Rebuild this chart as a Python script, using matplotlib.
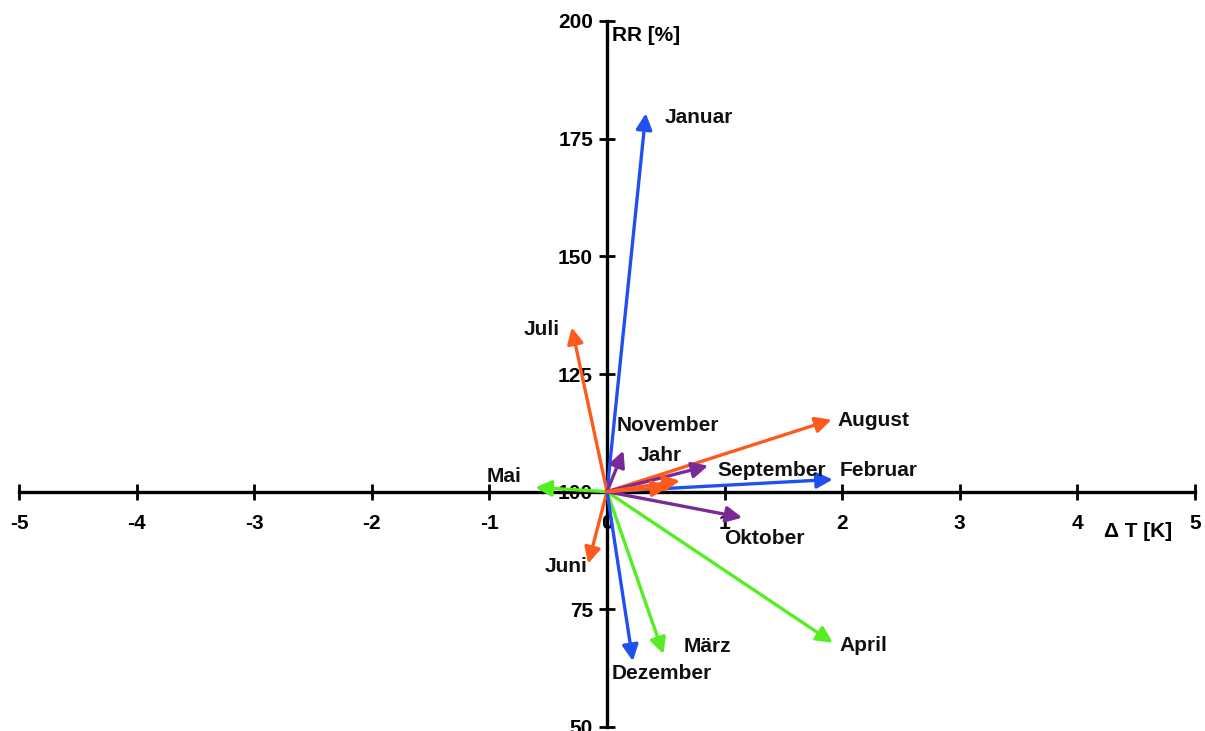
"""
Climate change vectors per month: temperature change vs. precipitation ratio.
Writes: out.png
"""

import matplotlib.pyplot as plt

plt.rcParams["font.family"] = ["Liberation Sans", "DejaVu Sans"]

BLUE = "#2050f0"
GREEN = "#55ee22"
ORANGE = "#ff5a1e"
PURPLE = "#7a2a96"

# month, delta T [K], RR [%], colour
months = ["Januar", "Februar", "März", "April", "Mai", "Juni", "Juli",
          "August", "September", "Oktober", "November", "Dezember", "Jahr", ""]
dT = [0.33, 1.92, 0.48, 1.92, -0.61, -0.16, -0.30,
      1.91, 0.86, 1.15, 0.14, 0.22, 0.62, 0.52]
rr = [180.4, 102.6, 65.5, 67.9, 100.9, 84.7, 134.9,
      115.3, 105.5, 94.5, 108.7, 64.0, 102.3, 100.9]
colors = [BLUE, BLUE, GREEN, GREEN, GREEN, ORANGE, ORANGE,
          ORANGE, PURPLE, PURPLE, PURPLE, BLUE, ORANGE, ORANGE]

# label anchor (x, y, ha) per month
label_pos = {
    "Januar": (0.49, 179.6, "left"),
    "Februar": (1.98, 104.5, "left"),
    "März": (0.65, 67.2, "left"),
    "April": (1.98, 67.4, "left"),
    "Mai": (-0.73, 103.2, "right"),
    "Juni": (-0.53, 84.0, "left"),
    "Juli": (-0.40, 134.5, "right"),
    "August": (1.96, 115.1, "left"),
    "September": (0.94, 104.5, "left"),
    "Oktober": (1.00, 90.0, "left"),
    "November": (0.08, 114.0, "left"),
    "Dezember": (0.04, 61.3, "left"),
    "Jahr": (0.26, 107.7, "left"),
}

x_ticks = [-5, -4, -3, -2, -1, 0, 1, 2, 3, 4, 5]
y_ticks = [50, 75, 100, 125, 150, 175, 200]

FS = 15


def main():
    fig = plt.figure(figsize=(12.05, 7.31), dpi=100)
    ax = fig.add_axes([19 / 1205, 4 / 731, 1176 / 1205, 706 / 731])
    ax.set_xlim(-5, 5)
    ax.set_ylim(50, 200)

    ax.spines["left"].set_position(("data", 0))
    ax.spines["bottom"].set_position(("data", 100))
    ax.spines["right"].set_visible(False)
    ax.spines["top"].set_visible(False)
    for s in ("left", "bottom"):
        ax.spines[s].set_linewidth(2.4)
        ax.spines[s].set_zorder(1)

    ax.set_xticks(x_ticks)
    ax.set_yticks(y_ticks)
    ax.set_xticklabels([str(t) for t in x_ticks])
    ax.tick_params(axis="both", direction="inout", length=12, width=2,
                   labelsize=FS)
    ax.tick_params(axis="x", pad=10)
    ax.tick_params(axis="y", pad=4)
    for lab in ax.get_xticklabels() + ax.get_yticklabels():
        lab.set_fontweight("bold")

    for name, x, y, c in zip(months, dT, rr, colors):
        ax.annotate("", xy=(x, y), xytext=(0, 100),
                    arrowprops=dict(arrowstyle="-|>", color=c, lw=2.4,
                                    mutation_scale=24, shrinkA=0, shrinkB=0),
                    zorder=3)
        if name in label_pos:
            lx, ly, ha = label_pos[name]
            ax.text(lx, ly, name, ha=ha, va="center", fontsize=FS,
                    fontweight="bold", color="#111111", zorder=4)

    ax.text(0.04, 197, "RR [%]", ha="left", va="center", fontsize=FS,
            fontweight="bold")
    ax.text(4.23, 91.5, "\u0394 T [K]", ha="left", va="center", fontsize=FS,
            fontweight="bold")

    fig.savefig("out.png", dpi=100)


if __name__ == "__main__":
    main()
